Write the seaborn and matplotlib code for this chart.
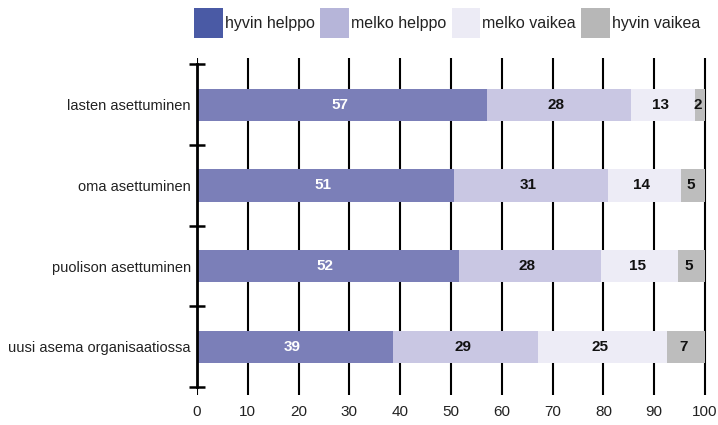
import matplotlib
matplotlib.use("Agg")
import matplotlib.pyplot as plt
from matplotlib.patches import Patch
import seaborn as sns
import pandas as pd
import numpy as np

categories = ["lasten asettuminen", "oma asettuminen", "puolison asettuminen", "uusi asema organisaatiossa"]
series_names = ["hyvin helppo", "melko helppo", "melko vaikea", "hyvin vaikea"]
hyvin_helppo = [57.1, 50.5, 51.5, 38.6]
melko_helppo = [28.3, 30.5, 28.1, 28.6]
melko_vaikea = [12.6, 14.2, 15.1, 25.4]
hyvin_vaikea = [2.0, 4.8, 5.3, 7.4]
labels_hh = [57, 51, 52, 39]
labels_mh = [28, 31, 28, 29]
labels_mv = [13, 14, 15, 25]
labels_hv = [2, 5, 5, 7]
x_ticks = [0, 10, 20, 30, 40, 50, 60, 70, 80, 90, 100]

bar_colors = ["#7b7fb8", "#c9c7e3", "#edecf6", "#bdbdbd"]
legend_colors = ["#4a5aa5", "#b6b5d9", "#ecebf5", "#b7b7b7"]

sns.set_style("white")
plt.rcParams['font.family'] = ['Liberation Sans', 'DejaVu Sans']

fig = plt.figure(figsize=(7.18, 4.25), dpi=100)
ax = fig.add_axes([0.2744, 0.0706, 0.7110, 0.7929])

vals = [hyvin_helppo, melko_helppo, melko_vaikea, hyvin_vaikea]
labs = [labels_hh, labels_mh, labels_mv, labels_hv]
cum = np.cumsum(np.array(vals), axis=0)
df = pd.DataFrame({"cat": categories})
for i in range(3, -1, -1):
    df["v"] = cum[i]
    sns.barplot(data=df, x="v", y="cat", orient="h", color=bar_colors[i],
                width=0.4, saturation=1, ax=ax, zorder=2, linewidth=0)

for i in range(4):
    starts = cum[i] - np.array(vals[i])
    for j in range(len(categories)):
        xc = starts[j] + vals[i][j] / 2 - 0.5
        ax.text(xc, j, str(labs[i][j]), ha="center", va="center",
                fontsize=11, fontweight="bold",
                color="white" if i == 0 else "#111111", zorder=3)

ax.set_xlim(0, 100.5)
ax.set_ylim(3.6, -0.58)
ax.set_xticks(x_ticks)
ax.set_xticklabels([str(t) for t in x_ticks], fontsize=11)
ax.set_xlabel("")
ax.set_ylabel("")
ax.set_axisbelow(True)
ax.grid(axis="x", color="black", linewidth=1.5)
ax.grid(axis="y", visible=False)
ax.tick_params(axis="x", length=0, pad=7, colors="#222222")
ax.set_yticks(range(len(categories)))
ax.set_yticklabels(categories, fontsize=10.5, color="#222222")
ax.set_yticks([-0.5, 0.5, 1.5, 2.5, 3.5], minor=True)
ax.tick_params(axis="y", which="major", length=0, pad=4.5)
ax.tick_params(axis="y", which="minor", direction="inout", length=12, width=1.8, color="black", left=True)
for s in ["top", "right", "bottom"]:
    ax.spines[s].set_visible(False)
ax.spines["left"].set_bounds(-0.5, 3.5)
ax.spines["left"].set_linewidth(2)
ax.spines["left"].set_color("black")
ax.spines["left"].set_zorder(4)

handles = [Patch(facecolor=c, edgecolor="none", label=n) for c, n in zip(legend_colors, series_names)]
fig.legend(handles=handles, loc="upper left", bbox_to_anchor=(0.259, 1.0), ncol=4,
           frameon=False, fontsize=11.5, handlelength=1.8, handleheight=2.5,
           handletextpad=0.12, columnspacing=0.35, borderaxespad=0.1, labelcolor="#222222")

fig.savefig("out.png", dpi=100)
